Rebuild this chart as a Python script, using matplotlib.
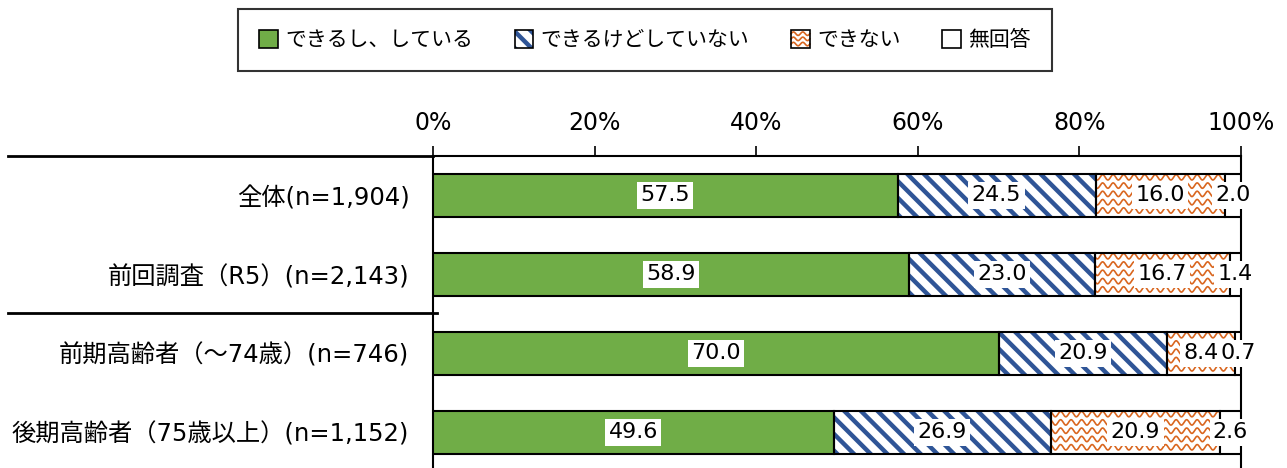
import numpy as np
import matplotlib
matplotlib.use("Agg")
import matplotlib.pyplot as plt
from matplotlib.patches import Patch, Rectangle
from matplotlib.lines import Line2D
from matplotlib.legend_handler import HandlerBase

plt.rcParams['font.family'] = ['DejaVu Sans', 'Noto Sans CJK JP']
plt.rcParams['hatch.linewidth'] = 3.2

categories = ['全体(n=1,904)', '前回調査（R5）(n=2,143)',
              '前期高齢者（～74歳）(n=746)', '後期高齢者（75歳以上）(n=1,152)']
series_names = ['できるし、している', 'できるけどしていない', 'できない', '無回答']
can_do = [57.5, 58.9, 70.0, 49.6]
can_but_not = [24.5, 23.0, 20.9, 26.9]
cannot = [16.0, 16.7, 8.4, 20.9]
no_answer = [2.0, 1.4, 0.7, 2.6]
xticks = [0, 20, 40, 60, 80, 100]
xtick_labels = ['0%', '20%', '40%', '60%', '80%', '100%']

GREEN = '#70AD47'
BLUE = '#2F5597'
ORANGE = '#D9661F'
BAR_H = 0.55

fig = plt.figure(figsize=(12.87, 4.68), dpi=100)
ax = fig.add_axes([433 / 1287, -0.008, (1241 - 433) / 1287, 1 - 156 / 468 + 0.008])

y = np.arange(len(categories))
values = [can_do, can_but_not, cannot, no_answer]


def draw_waves(ax, rect):
    # orange wave pattern clipped to the bar segment
    x0, y0 = rect.get_x(), rect.get_y()
    w, h = rect.get_width(), rect.get_height()
    xs = np.linspace(x0 - 1, x0 + w + 1, 400)
    for off in np.arange(y0 + 0.045, y0 + h, 0.105):
        ys = off + 0.034 * np.sin(2 * np.pi * xs / 1.3)
        ln, = ax.plot(xs, ys, color=ORANGE, lw=1.2, zorder=2)
        ln.set_clip_path(rect)


left = np.zeros(len(categories))
for k, vals in enumerate(values):
    if k == 0:
        ax.barh(y, vals, left=left, height=BAR_H, color=GREEN,
                edgecolor='black', linewidth=1.5, zorder=3)
    elif k == 1:
        ax.barh(y, vals, left=left, height=BAR_H, color='white',
                edgecolor=BLUE, linewidth=0, hatch='\\\\', zorder=2)
        ax.barh(y, vals, left=left, height=BAR_H, fill=False,
                edgecolor='black', linewidth=1.5, zorder=3)
    elif k == 2:
        bg = ax.barh(y, vals, left=left, height=BAR_H, color='white',
                     linewidth=0, zorder=1)
        for r in bg:
            draw_waves(ax, r)
        ax.barh(y, vals, left=left, height=BAR_H, fill=False,
                edgecolor='black', linewidth=1.5, zorder=3)
    else:
        ax.barh(y, vals, left=left, height=BAR_H, color='white',
                edgecolor='black', linewidth=1.5, zorder=3)
    for i, v in enumerate(vals):
        ax.text(left[i] + v / 2, y[i], f'{v:.1f}', ha='center', va='center',
                fontsize=16, zorder=5,
                bbox=dict(boxstyle='square,pad=0.15', fc='white', ec='none'))
    left += np.array(vals)

ax.set_xlim(0, 100)
ax.set_ylim(len(categories) - 0.5, -0.5)
ax.xaxis.tick_top()
ax.set_xticks(xticks)
ax.set_xticklabels(xtick_labels, fontsize=17)
ax.tick_params(axis='x', direction='out', length=7, width=1.2, pad=8)
ax.set_yticks(y)
ax.set_yticklabels(categories, fontsize=17.5)
ax.tick_params(axis='y', length=0, pad=17)
for s in ['top', 'left', 'right']:
    ax.spines[s].set_linewidth(1.5)
ax.spines['bottom'].set_visible(False)

# header line and group separator on the left
fig.add_artist(Line2D([8 / 1287, 433 / 1287], [1 - 156 / 468] * 2,
                      color='black', lw=2))
fig.add_artist(Line2D([8 / 1287, 437 / 1287], [1 - 313 / 468] * 2,
                      color='black', lw=2))


class PatternHandler(HandlerBase):
    def __init__(self, kind):
        super().__init__()
        self.kind = kind

    def create_artists(self, legend, orig, xd, yd, w, h, fontsize, trans):
        arts = []
        if self.kind == 'hatch':
            arts.append(Rectangle((-xd, -yd), w, h, fc='white', ec=BLUE, lw=0,
                                  hatch='\\\\', transform=trans))
        else:
            arts.append(Rectangle((-xd, -yd), w, h, fc='white', ec='none',
                                  transform=trans))
            xs = np.linspace(-xd, -xd + w, 50)
            for off in np.linspace(-yd + h * 0.2, -yd + h * 0.8, 3):
                arts.append(Line2D(xs, off + h * 0.1 * np.sin(2 * np.pi * xs / (w / 2)),
                                   color=ORANGE, lw=1.2, transform=trans))
        arts.append(Rectangle((-xd, -yd), w, h, fill=False, ec='black', lw=1.2,
                              transform=trans))
        return arts


handles = [Patch(fc=GREEN, ec='black', lw=1.2),
           Patch(fc='white', ec='black'),
           Patch(fc='white', ec='black'),
           Patch(fc='white', ec='black', lw=1.2)]
leg = fig.legend(handles, series_names, loc='center',
                 bbox_to_anchor=(645 / 1287, 1 - 40 / 468), ncol=4,
                 fontsize=15, frameon=True, fancybox=False, edgecolor='black',
                 handlelength=0.9, handleheight=0.9, handletextpad=0.35,
                 columnspacing=2.0, borderpad=1.0,
                 handler_map={handles[1]: PatternHandler('hatch'),
                              handles[2]: PatternHandler('wave')})
leg.get_frame().set_linewidth(1.5)

fig.savefig('out.png', dpi=100)
